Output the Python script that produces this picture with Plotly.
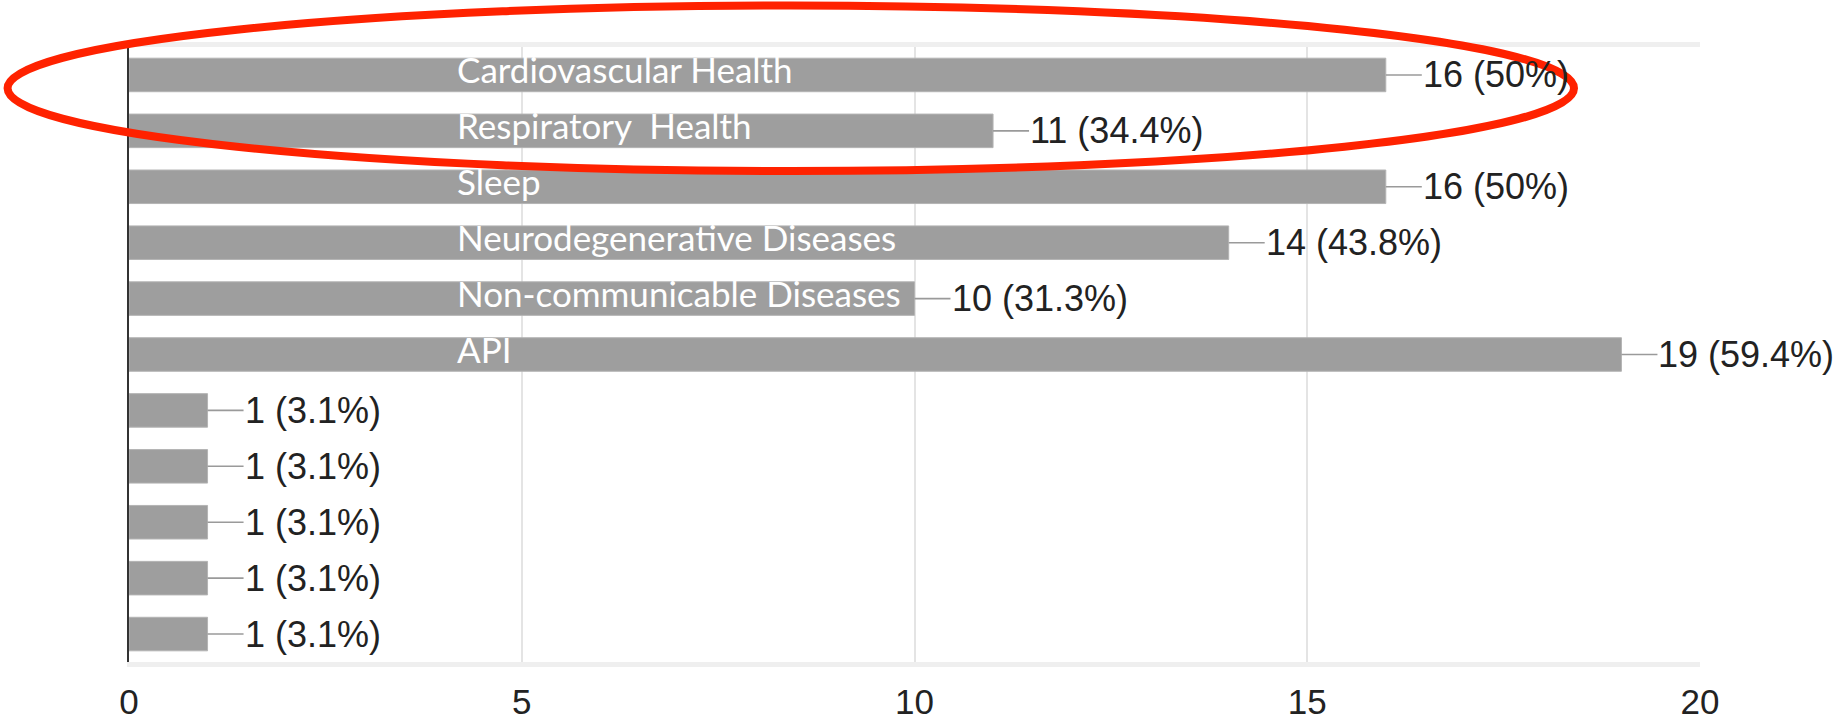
import plotly.graph_objects as go

# ---- data ----
category_names = ["Cardiovascular Health", "Respiratory  Health", "Sleep",
                  "Neurodegenerative Diseases", "Non-communicable Diseases", "API",
                  "", "", "", "", ""]
counts = [16, 11, 16, 14, 10, 19, 1, 1, 1, 1, 1]
percents = ["50%", "34.4%", "50%", "43.8%", "31.3%", "59.4%",
            "3.1%", "3.1%", "3.1%", "3.1%", "3.1%"]
x_ticks = [0, 5, 10, 15, 20]

positions = list(range(len(counts)))

fig = go.Figure()
fig.add_trace(go.Bar(
    x=counts, y=positions, orientation="h",
    marker=dict(color="#9e9e9e", line=dict(color="#b4b4b4", width=1)),
    width=0.6, hoverinfo="skip", showlegend=False,
))

# value labels with leader lines
for pos, c, p in zip(positions, counts, percents):
    fig.add_annotation(
        x=c, y=pos, xref="x", yref="y",
        text=f"{c} ({p})", showarrow=True, arrowhead=0, arrowwidth=1.6,
        arrowcolor="#9a9a9a", ax=36, ay=0, xanchor="left", yanchor="middle",
        standoff=0, borderpad=0,
        font=dict(family="Liberation Sans, Arial, sans-serif", size=36, color="#222222"),
    )

# white overlay category labels inside bars
for pos, name in zip(positions, category_names):
    if name:
        fig.add_annotation(
            x=0.2074, y=pos, xref="paper", yref="y", yshift=6,
            text=name, showarrow=False, xanchor="left", yanchor="middle",
            font=dict(family="Lato, Open Sans, sans-serif", size=35, color="white"),
        )

# red ellipse highlight
fig.add_shape(type="circle", xref="paper", yref="paper",
              x0=-0.0773, x1=0.9198, y0=0.7984, y1=1.0675,
              line=dict(color="#ff2200", width=8), layer="above")

fig.update_layout(
    width=1835, height=724,
    margin=dict(l=129, r=135, t=47, b=62, autoexpand=False),
    paper_bgcolor="white", plot_bgcolor="white",
    bargap=0.4,
    xaxis=dict(range=[0, 20], tickvals=x_ticks, showgrid=True, gridcolor="#e4e4e4",
               gridwidth=2, zeroline=False, showline=True, linecolor="#efefef",
               linewidth=5, mirror=True, ticks="outside", ticklen=5,
               tickcolor="rgba(0,0,0,0)", automargin=False,
               tickfont=dict(family="Liberation Sans, Arial, sans-serif", size=35,
                             color="#222222")),
    yaxis=dict(range=[len(counts) - 0.5, -0.5], showticklabels=False, showgrid=False,
               zeroline=False, showline=True, linecolor="#333333", linewidth=2,
               automargin=False),
)

fig.write_html("out.html",
               config={"displayModeBar": False},
               post_script="document.body.style.margin='0';document.body.style.overflow='hidden';")
